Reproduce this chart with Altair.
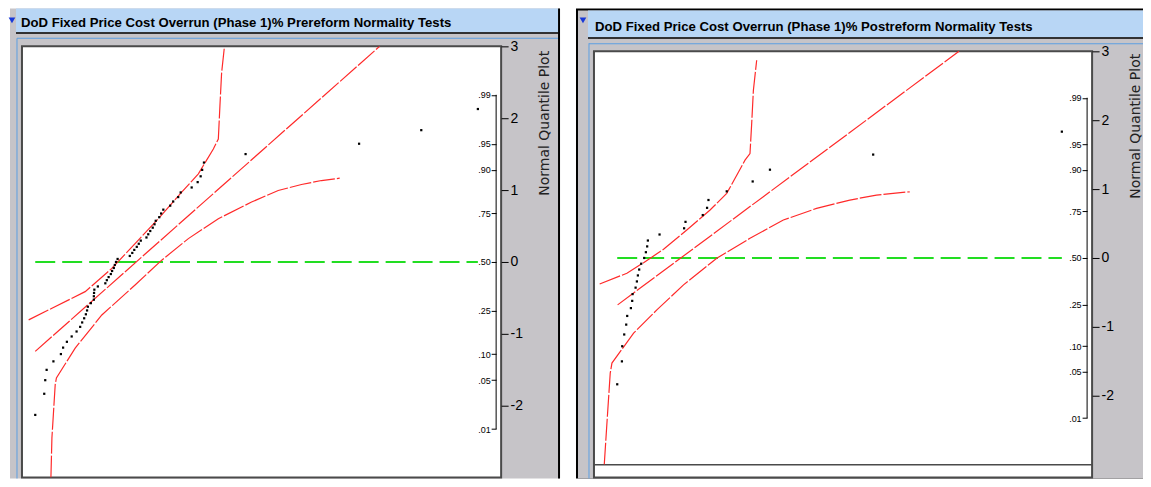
import altair as alt
import pandas as pd

# ---------------- data ----------------
TITLES = [
    "DoD Fixed Price Cost Overrun (Phase 1)% Prereform Normality Tests",
    "DoD Fixed Price Cost Overrun (Phase 1)% Postreform Normality Tests",
]

# cost overrun values (arbitrary % units, no x axis shown in the reference)
PRE_OVERRUN = [-13.35, -8.85, -8.35, -7.65, -4.25, -0.5, 0.6, 2.5, 4.9, 7.35,
               9.15, 10.15, 11.15, 12.0, 12.6, 13.0, 14.5, 16.0, 16.0, 16.1,
               16.25, 18.0, 21.75, 22.5, 23.4, 24.5, 25.15, 26.0, 26.5, 27.1,
               27.9, 34.0, 35.25, 36.25, 37.5, 38.5, 39.5, 42.35, 43.25, 44.25,
               45.5, 46.4, 47.0, 48.75, 49.7, 50.8, 54.25, 55.75, 58.25, 59.5,
               65.0, 68.0, 69.5, 70.25, 71.15, 92.0, 148.85, 180.0, 208.35]
POST_OVERRUN = [-8.35, -6.0, -5.85, -4.85, -3.85, -3.35, -1.5, -0.85, -0.65, 0.85,
                1.5, 2.0, 2.65, 3.65, 5.15, 6.0, 6.65, 7.0, 12.85, 25.15,
                25.85, 34.5, 36.65, 37.35, 46.5, 59.5, 68.15, 119.85, 214.35]

# fitted normal line and confidence curves (x in overrun units, z in normal quantiles)
PRE_FIT_X = [-13.35, 159.15]
PRE_FIT_Z = [-1.244, 3.0]
PRE_UPPER_X = [-16.65, -5.0, 11.65, 25.0, 36.65, 48.35, 60.0, 68.35, 75.85, 78.35, 79.15, 80.0, 81.35]
PRE_UPPER_Z = [-0.806, -0.644, -0.413, -0.090, 0.256, 0.602, 0.972, 1.226, 1.572, 1.711, 2.172, 2.634, 2.981]
PRE_LOWER_X = [-5.5, -5.0, -3.35, -2.75, 6.65, 20.0, 36.65, 50.0, 63.35, 78.35, 95.0, 108.35, 120.0, 130.0, 139.15]
PRE_LOWER_Z = [-3.0, -2.445, -1.706, -1.614, -1.198, -0.737, -0.321, 0.025, 0.325, 0.602, 0.834, 0.994, 1.078, 1.133, 1.166]

POST_FIT_X = [-8.15, 162.85]
POST_FIT_Z = [-0.681, 3.0]
POST_UPPER_X = [-17.15, -3.5, 4.85, 14.85, 26.5, 38.15, 46.5, 55.65, 58.15, 59.0, 59.85, 61.5]
POST_UPPER_Z = [-0.377, -0.222, -0.068, 0.126, 0.406, 0.696, 0.938, 1.42, 1.517, 1.952, 2.435, 2.87]
POST_LOWER_X = [-14.85, -13.5, -11.85, -11.0, -0.15, 11.5, 24.85, 41.5, 58.15, 74.85, 91.5, 108.15, 121.5, 129.85, 138.15]
POST_LOWER_Z = [-3.0, -2.396, -1.671, -1.526, -1.091, -0.754, -0.391, -0.004, 0.286, 0.551, 0.720, 0.841, 0.913, 0.938, 0.961]

PROB_LABELS = [".01", ".05", ".10", ".25", ".50", ".75", ".90", ".95", ".99"]
PROB_Z = [-2.326, -1.645, -1.282, -0.674, 0.0, 0.674, 1.282, 1.645, 2.326]
QUANT_TICKS = [-2, -1, 0, 1, 2, 3]

# ---------------- style ----------------
GRAY = "#c6c4c8"
TITLE_BLUE = "#b8d6f5"
LINE_BLUE = "#5c9fe2"
FRAME = "#4a4a4a"
RED = "#ff2a2a"
GREEN = "#22dd22"
SANS = "'Liberation Sans', Arial, sans-serif"
DEJAVU = "'DejaVu Sans', sans-serif"

ONE = pd.DataFrame({"k": [0]})

prob_expr = ""
for zv, lab in zip(PROB_Z, PROB_LABELS):
    prob_expr += f"abs(datum.value - ({zv})) < 0.01 ? '{lab}' : "
prob_expr += "''"


def rect(x, x2, y, y2, color, **kw):
    return alt.Chart(ONE).mark_rect(color=color, **kw).encode(
        x=alt.value(x), x2=alt.value(x2), y=alt.value(y), y2=alt.value(y2))


def panel(title, values, fx, fz, ux, uz, lx, lz, W, H, xdom, ydom, deco, title_pos, qtitle_y):
    xs = alt.Scale(domain=xdom, nice=False, zero=False)
    ys = alt.Scale(domain=ydom, nice=False, zero=False)
    pts = pd.DataFrame({"overrun": values})

    curves = pd.DataFrame(
        [{"curve": "fit", "i": i, "x": a, "z": b} for i, (a, b) in enumerate(zip(fx, fz))]
        + [{"curve": "upper", "i": i, "x": a, "z": b} for i, (a, b) in enumerate(zip(ux, uz))]
        + [{"curve": "lower", "i": i, "x": a, "z": b} for i, (a, b) in enumerate(zip(lx, lz))]
    )

    layers = list(deco)

    zero_line = alt.Chart(pts).transform_aggregate(
        lo="min(overrun)", hi="max(overrun)"
    ).mark_rule(color=GREEN, strokeWidth=2, strokeDash=[20, 7]).encode(
        x=alt.X("lo:Q", scale=xs, axis=None),
        x2="hi:Q",
        y=alt.YDatum(0, scale=ys, axis=None),
    )
    layers.append(zero_line)

    red = alt.Chart(curves).mark_line(color=RED, strokeWidth=1.2, strokeDash=[22, 2], clip=True).encode(
        x=alt.X("x:Q", scale=xs, axis=None),
        y=alt.Y("z:Q", scale=ys, axis=None),
        detail="curve:N",
        order="i:Q",
    )
    layers.append(red)

    points = alt.Chart(pts).transform_window(
        rank="row_number()", sort=[alt.SortField("overrun")]
    ).transform_joinaggregate(n="count()").transform_calculate(
        q="quantileNormal(datum.rank / (datum.n + 1))"
    ).mark_square(size=5, color="black", opacity=1).encode(
        x=alt.X("overrun:Q", scale=xs, axis=None),
        y=alt.Y("q:Q", scale=ys, axis=alt.Axis(
            orient="right", values=QUANT_TICKS, domain=False, grid=False,
            tickSize=7, tickColor="black", tickWidth=1,
            labelExpr="datum.value + ''", labelFont=SANS, labelFontSize=14,
            labelColor="black", labelPadding=2, labelOverlap=False,
            title="Normal Quantile Plot", titleFont=DEJAVU, titleFontSize=14,
            titleFontWeight="normal", titleColor="#222222", titleAngle=270,
            titleAlign="right", titleBaseline="middle", titleX=43, titleY=qtitle_y,
            zindex=1)),
    )
    layers.append(points)

    prob = alt.Chart(pd.DataFrame({"z": PROB_Z})).transform_aggregate(
        lo="min(z)", hi="max(z)"
    ).mark_rule(color="black", strokeWidth=1).encode(
        x=alt.value(W - 5),
        y=alt.Y("lo:Q", scale=ys, axis=alt.Axis(
            orient="left", offset=-(W - 5), values=PROB_Z, domain=False, grid=False,
            tickSize=5, tickColor="black", tickWidth=1,
            labelExpr=prob_expr, labelFont=SANS, labelFontSize=9,
            labelColor="black", labelPadding=1, labelOverlap=False,
            title="", zindex=1)),
        y2="hi:Q",
    )
    layers.append(prob)

    ttl = alt.Chart(ONE).mark_text(
        align="left", baseline="alphabetic", font=SANS, fontSize=13.2,
        fontWeight="bold", color="black", limit=520
    ).encode(x=alt.value(title_pos[0]), y=alt.value(title_pos[1]), text=alt.value(title))
    layers.append(ttl)

    return alt.layer(*layers).resolve_axis(y="independent").properties(width=W, height=H)


# left panel decorations (pixel offsets relative to the plot area)
WL, HL = 480, 432
deco_left = [
    rect(-12, 539, -38, 433, GRAY),
    rect(537, 539, -38, 433, "black"),
    rect(-6, 537, -38, -14, TITLE_BLUE),
    rect(-6, 537, -14, -12.5, "black"),
    rect(-5, 537, -8.5, -7.5, LINE_BLUE),
    rect(-5.5, -4.5, -8, 433, LINE_BLUE),
    alt.Chart(ONE).mark_point(shape="triangle-down", filled=True, color="#1838d8", size=45, opacity=1).encode(
        x=alt.value(-10), y=alt.value(-26)),
    rect(0, WL, 0, HL, "white", stroke=FRAME, strokeWidth=2),
]

WR, HR = 499, 419
deco_right = [
    rect(-18, 550, -38, 433, "black"),
    rect(-16, 550, -36, 433, GRAY),
    rect(-6, 550, -36, -9, TITLE_BLUE),
    rect(-6, 550, -9, -7.5, "black"),
    rect(-5, 550, -3, -2, LINE_BLUE),
    rect(-5.5, -4.5, -3, 433, LINE_BLUE),
    alt.Chart(ONE).mark_point(shape="triangle-down", filled=True, color="#1838d8", size=45, opacity=1).encode(
        x=alt.value(-11), y=alt.value(-26)),
    rect(0, WR, 5, 432, "white", stroke=FRAME, strokeWidth=2),
    rect(0, WR, 418.5, 420, FRAME),
]

left = panel(TITLES[0], PRE_OVERRUN, PRE_FIT_X, PRE_FIT_Z, PRE_UPPER_X, PRE_UPPER_Z,
             PRE_LOWER_X, PRE_LOWER_Z, WL, HL, [-20, 220], [-3, 3], deco_left, (-1, -19), 4)
right = panel(TITLES[1], POST_OVERRUN, POST_FIT_X, POST_FIT_Z, POST_UPPER_X, POST_UPPER_Z,
              POST_LOWER_X, POST_LOWER_Z, WR, HR, [-20, 229.5], [-3, 3 + 5 / 69], deco_right, (1, -15), 7)

chart = alt.hconcat(left, right, spacing=93, bounds="flush", padding=0,
                    background="white").configure_view(strokeWidth=0)

chart.save("out.html", embed_options={"renderer": "svg", "actions": False})
